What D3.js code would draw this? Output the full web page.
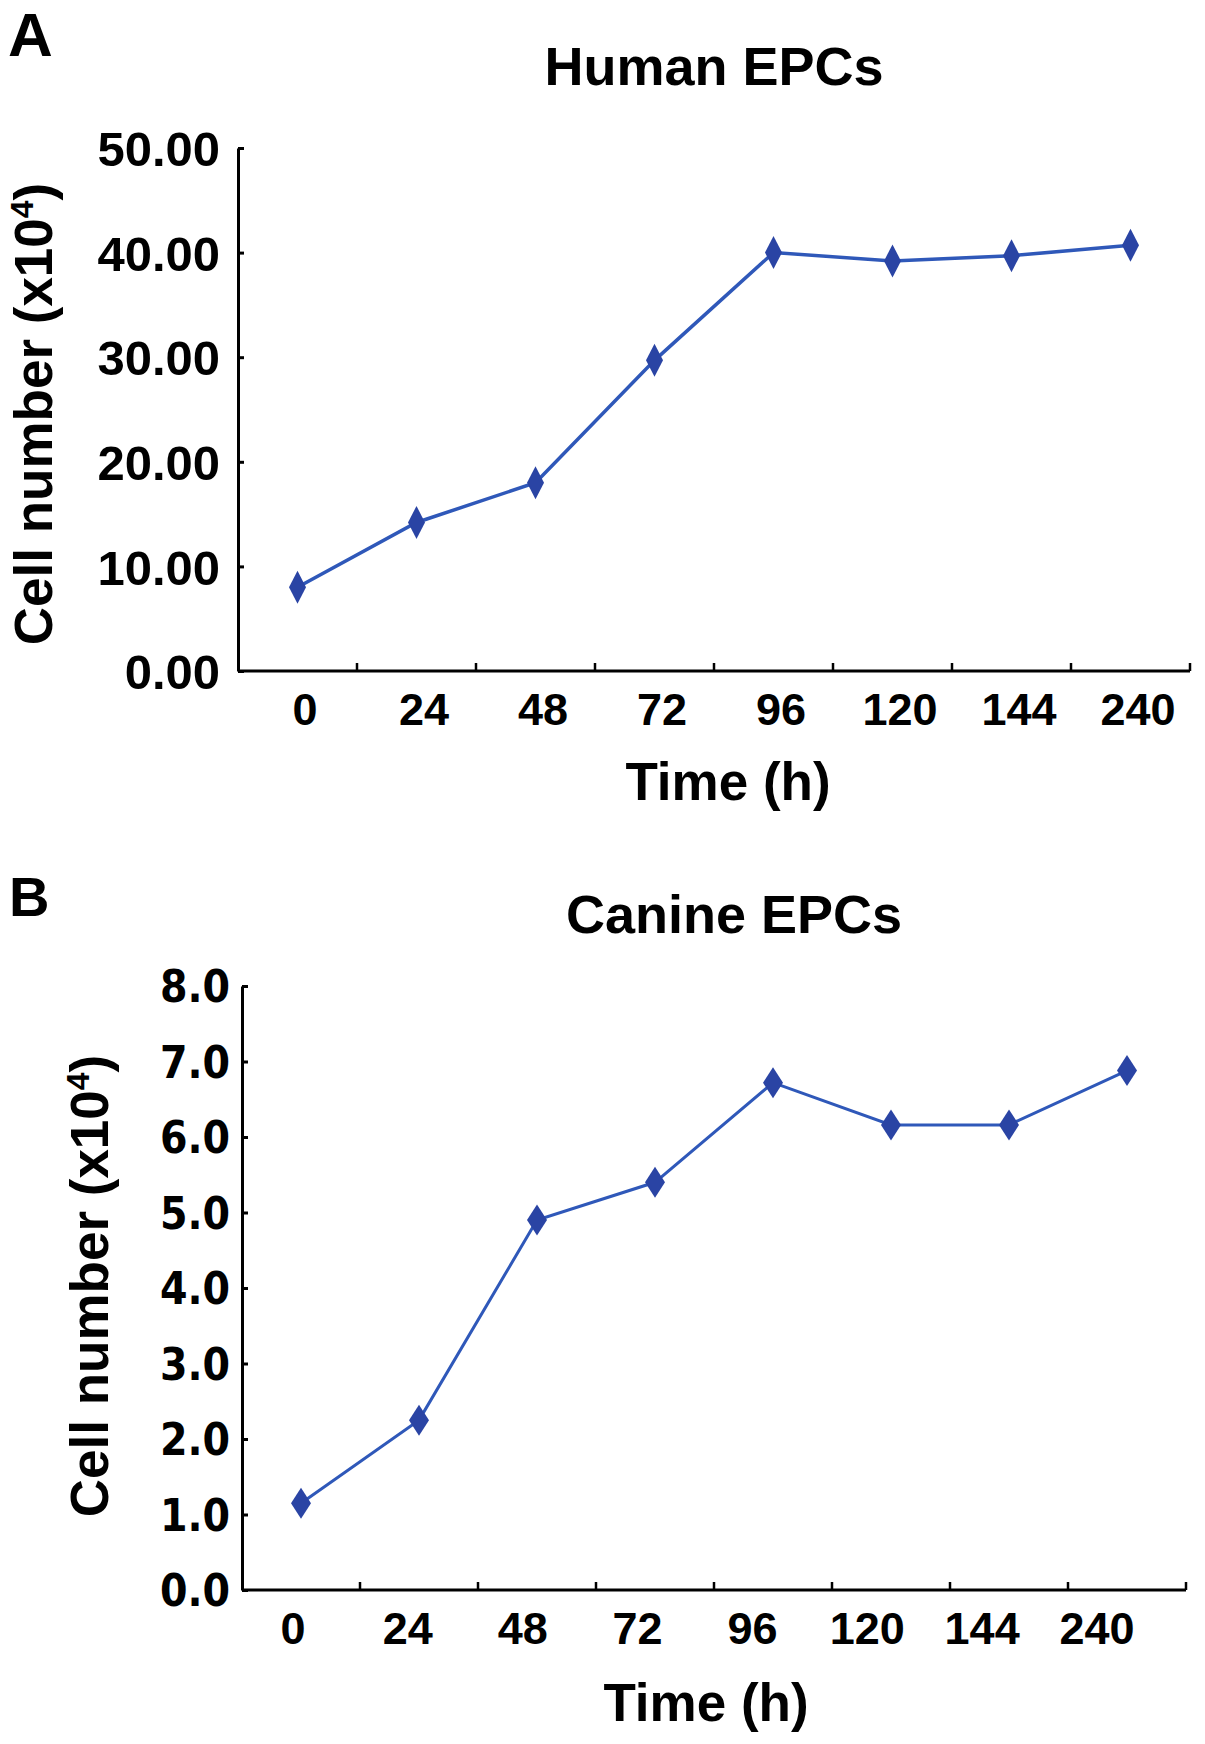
<!DOCTYPE html>
<html>
<head>
<meta charset="utf-8">
<script src="https://cdn.jsdelivr.net/npm/d3@7"></script>
<style>
  body { margin: 0; background: #fff; }
  svg text { font-family: "Liberation Sans", Arial, sans-serif; font-weight: bold; fill: #000; }
  .axis path, .axis line { stroke: #000; stroke-width: 3; }
</style>
</head>
<body>
<svg id="chart" width="1205" height="1744"></svg>
<script>
// time points, shared by both panels
var times = ['0', '24', '48', '72', '96', '120', '144', '240'];

// panel A, human EPCs (x10^4 cells)
var humanCells = [8.0, 14.2, 18.0, 29.7, 40.0, 39.2, 39.7, 40.7];
var humanTicks = [0, 10, 20, 30, 40, 50];

// panel B, canine EPCs (x10^4 cells)
var canineCells = [1.15, 2.25, 4.9, 5.4, 6.72, 6.16, 6.16, 6.88];
var canineTicks = [0, 1, 2, 3, 4, 5, 6, 7, 8];

var svg = d3.select('#chart');

function diamond(w, h) {
    return 'M0,' + (-h / 2) + 'L' + (w / 2) + ',0L0,' + (h / 2) + 'L' + (-w / 2) + ',0Z';
}

function drawPanel(p) {
    var g = svg.append('g');

    var x = d3.scaleBand().domain(times).range([p.x0, p.x1]).padding(0);
    var y = d3.scaleLinear().domain([0, p.yMax]).range([p.y0, p.y1]);

    // panel letter
    g.append('text')
        .attr('x', p.letterX)
        .attr('y', p.letterY)
        .style('font-size', p.letterSize + 'px')
        .text(p.letter);

    // title
    g.append('text')
        .attr('x', p.titleX)
        .attr('y', p.titleY)
        .attr('text-anchor', 'middle')
        .style('font-size', '54px')
        .text(p.title);

    // y axis
    var yAxis = g.append('g').classed('axis', true)
        .attr('transform', 'translate(' + p.x0 + ',0)')
        .call(d3.axisLeft(y)
            .tickValues(p.ticks)
            .tickFormat(d3.format(p.fmt))
            .tickSizeInner(-6)
            .tickSizeOuter(0)
            .tickPadding(p.yPad));
    yAxis.selectAll('text')
        .style('font-size', p.yFontSize + 'px')
        .style('font-family', p.yFont)
        .attr('dy', '0.36em');

    // x axis line
    g.append('line')
        .attr('x1', p.x0)
        .attr('x2', x(times[times.length - 1]) + x.bandwidth())
        .attr('y1', y(0))
        .attr('y2', y(0))
        .style('stroke', '#000')
        .style('stroke-width', 3);

    // x ticks on the band edges, pointing up
    g.selectAll('.xTick')
        .data(times)
        .enter().append('line')
        .attr('x1', function(t) { return x(t) + x.bandwidth(); })
        .attr('x2', function(t) { return x(t) + x.bandwidth(); })
        .attr('y1', y(0))
        .attr('y2', y(0) - 8)
        .style('stroke', '#000')
        .style('stroke-width', 2.5);

    // x tick labels
    var xl = d3.scalePoint().domain(times).range(p.labelRange);
    g.selectAll('.xLabel')
        .data(times)
        .enter().append('text')
        .attr('x', function(t) { return xl(t); })
        .attr('y', p.xLabelY)
        .attr('text-anchor', 'middle')
        .style('font-size', '45px')
        .text(function(t) { return t; });

    // x title
    g.append('text')
        .attr('x', p.xTitleX)
        .attr('y', p.xTitleY)
        .attr('text-anchor', 'middle')
        .style('font-size', '53px')
        .text('Time (h)');

    // y title
    var yt = g.append('text')
        .attr('transform', 'translate(' + p.yTitleX + ',' + p.yTitleY + ') rotate(-90)')
        .attr('text-anchor', 'middle')
        .style('font-size', '53px');
    yt.append('tspan').text('Cell number (x10');
    yt.append('tspan').attr('dy', -19).style('font-size', '32px').text('4');
    yt.append('tspan').attr('dy', 19).text(')');

    // data line
    var line = d3.line()
        .x(function(d, i) { return x(times[i]) + x.bandwidth() / 2; })
        .y(function(d) { return y(d); });

    g.append('path')
        .datum(p.values)
        .attr('d', line)
        .style('fill', 'none')
        .style('stroke', '#2f58b9')
        .style('stroke-width', p.lineWidth);

    g.selectAll('.marker')
        .data(p.values)
        .enter().append('path')
        .attr('transform', function(d, i) {
            return 'translate(' + (x(times[i]) + x.bandwidth() / 2) + ',' + y(d) + ')';
        })
        .attr('d', diamond(p.mW, p.mH))
        .style('fill', '#2a44a4');
}

drawPanel({
    letter: 'A', letterX: 8, letterY: 56, letterSize: 62,
    title: 'Human EPCs', titleX: 714, titleY: 85,
    x0: 238, x1: 1190, y0: 671, y1: 148, yMax: 50,
    ticks: humanTicks, fmt: '.2f', yPad: 18, yFontSize: 49,
    yFont: '"Liberation Sans", Arial, sans-serif',
    labelRange: [305, 1138], xLabelY: 725,
    xTitleX: 728, xTitleY: 800,
    yTitleX: 52, yTitleY: 414,
    values: humanCells, lineWidth: 3.5, mW: 17, mH: 33
});

drawPanel({
    letter: 'B', letterX: 9, letterY: 916, letterSize: 56,
    title: 'Canine EPCs', titleX: 734, titleY: 933,
    x0: 242, x1: 1186, y0: 1590, y1: 986, yMax: 8,
    ticks: canineTicks, fmt: '.1f', yPad: 12, yFontSize: 44,
    yFont: '"DejaVu Sans Condensed", "DejaVu Sans", sans-serif',
    labelRange: [293, 1097], xLabelY: 1644,
    xTitleX: 706, xTitleY: 1721,
    yTitleX: 108, yTitleY: 1286,
    values: canineCells, lineWidth: 3, mW: 20, mH: 31
});
</script>
</body>
</html>
